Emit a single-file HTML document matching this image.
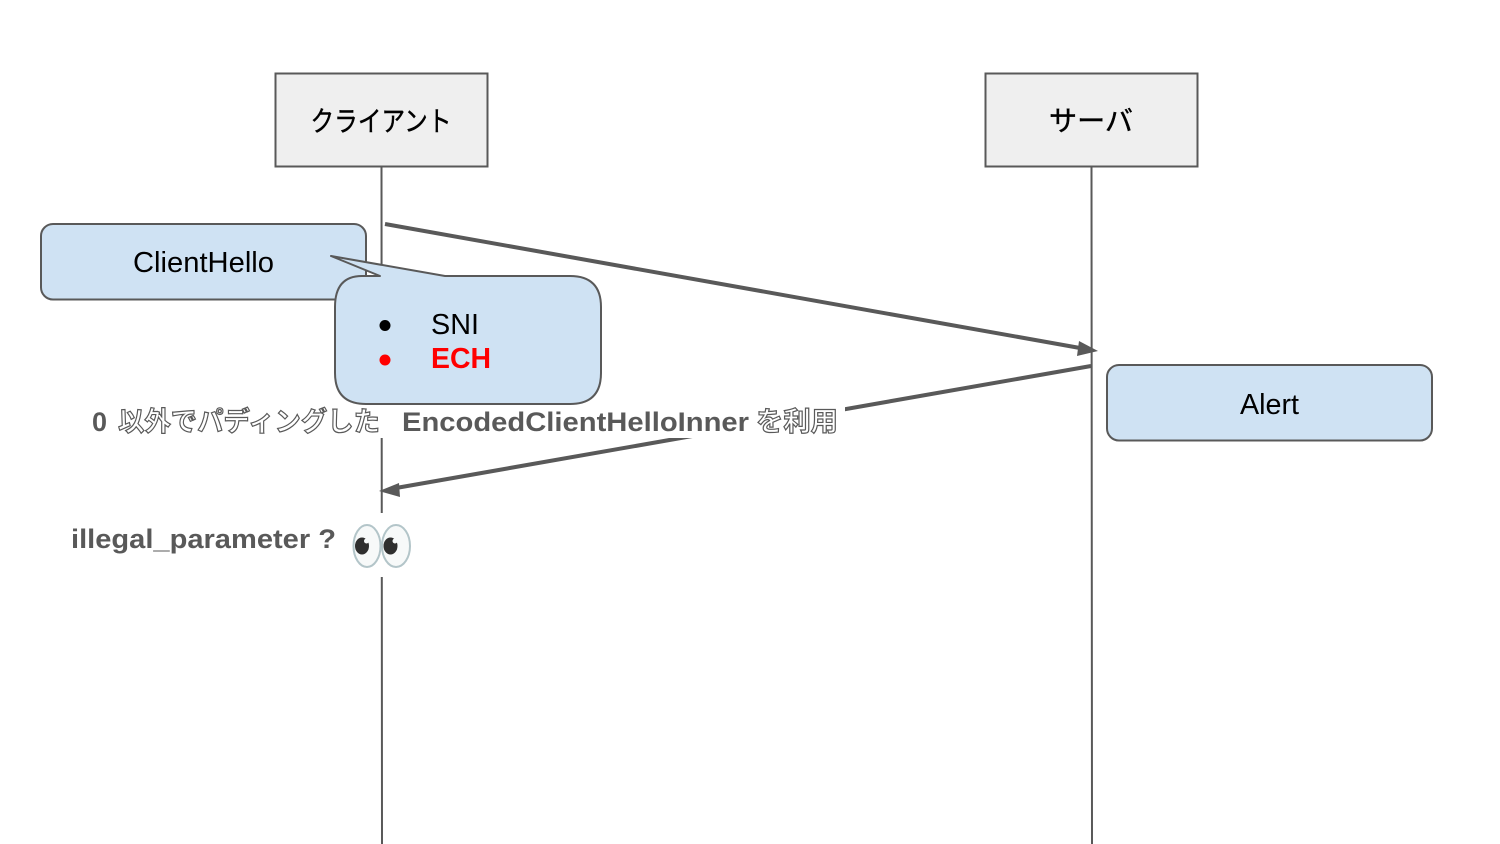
<!DOCTYPE html>
<html><head><meta charset="utf-8"><style>
html,body{margin:0;padding:0;background:#fff}
svg{display:block}
text{font-family:"Liberation Sans","Noto Sans CJK JP",sans-serif}
</style></head><body>
<svg width="1500" height="844" viewBox="0 0 1500 844" xmlns="http://www.w3.org/2000/svg">
<rect width="1500" height="844" fill="#fff"/>
<!-- lifelines -->
<path d="M381.500 167L382 844M1091.500 167L1092 844" stroke="#595959" stroke-width="2" fill="none"/>
<!-- actors -->
<rect x="275.500" y="73.500" width="212" height="93" fill="#efefef" stroke="#595959" stroke-width="2"/>
<rect x="985.500" y="73.500" width="212" height="93" fill="#efefef" stroke="#595959" stroke-width="2"/>
<text x="381" y="131" font-size="28" text-anchor="middle" fill="#000" stroke="#000" stroke-width="0.400" textLength="141" lengthAdjust="spacingAndGlyphs">クライアント</text>
<text x="1091" y="130.500" font-size="28" text-anchor="middle" fill="#000" stroke="#000" stroke-width="0.400" textLength="84" lengthAdjust="spacingAndGlyphs">サーバ</text>
<!-- arrow 1 -->
<path d="M385 224L1080 348" stroke="#595959" stroke-width="4" fill="none"/>
<path d="M1098 351L1077 356L1079 341Z" fill="#595959"/>
<!-- arrow 2 -->
<path d="M1091 366L396 488" stroke="#595959" stroke-width="4" fill="none"/>
<path d="M379 491L399 483L400 497Z" fill="#595959"/>
<!-- ClientHello -->
<rect x="41" y="224" width="325" height="75.500" rx="12" fill="#cfe2f3" stroke="#595959" stroke-width="2"/>
<text x="133" y="272" font-size="28.800" fill="#000" textLength="141" lengthAdjust="spacingAndGlyphs">ClientHello</text>
<!-- Alert -->
<rect x="1107" y="365" width="325" height="75.500" rx="12" fill="#cfe2f3" stroke="#595959" stroke-width="2"/>
<text x="1240" y="414" font-size="28.800" fill="#000" textLength="59" lengthAdjust="spacingAndGlyphs">Alert</text>
<!-- label 1 -->
<rect x="85" y="404" width="760" height="34" fill="#fff"/>
<!-- callout -->
<path d="M362 276H380L331 256L445 276H570Q601 276 601 307V373Q601 404 570 404H366Q335 404 335 373V307Q335 276 362 276Z" fill="#cfe2f3" stroke="#595959" stroke-width="2" stroke-linejoin="round"/>
<circle cx="385" cy="325.500" r="5.500" fill="#000"/>
<text x="431" y="334" font-size="28.800" fill="#000" textLength="48" lengthAdjust="spacingAndGlyphs">SNI</text>
<circle cx="385" cy="360" r="5.500" fill="#f00"/>
<text x="431" y="368" font-size="28.800" font-weight="700" fill="#f00" textLength="60" lengthAdjust="spacingAndGlyphs">ECH</text>
<!-- label text -->
<text x="92" y="431" font-size="27" font-weight="700" fill="#595959">0</text>
<text x="118" y="431" font-size="27" font-weight="700" fill="#fff" stroke="#595959" stroke-width="1.200" textLength="262" lengthAdjust="spacingAndGlyphs">以外でパディングした</text>
<text x="402" y="431" font-size="27" font-weight="700" fill="#595959" textLength="347" lengthAdjust="spacingAndGlyphs">EncodedClientHelloInner</text>
<text x="756" y="431" font-size="27" font-weight="700" fill="#fff" stroke="#595959" stroke-width="1.200" textLength="82" lengthAdjust="spacingAndGlyphs">を利用</text>
<!-- label 2 -->
<rect x="65" y="513" width="356" height="64" fill="#fff"/>
<text x="71" y="548" font-size="27" font-weight="700" fill="#595959" textLength="265" lengthAdjust="spacingAndGlyphs">illegal_parameter ?</text>
<!-- eyes -->
<ellipse cx="367" cy="546" rx="13.500" ry="21" fill="#f7f9f9" stroke="#b3c5c9" stroke-width="2"/>
<ellipse cx="396" cy="546" rx="14" ry="21" fill="#f7f9f9" stroke="#b3c5c9" stroke-width="2"/>
<ellipse cx="362" cy="546" rx="7" ry="8.500" fill="#2f2f2f"/>
<ellipse cx="390.500" cy="546" rx="7" ry="8.500" fill="#2f2f2f"/>
<circle cx="366.500" cy="541" r="2.500" fill="#f7f9f9"/>
<circle cx="395" cy="541" r="2.500" fill="#f7f9f9"/>
</svg>
</body></html>
